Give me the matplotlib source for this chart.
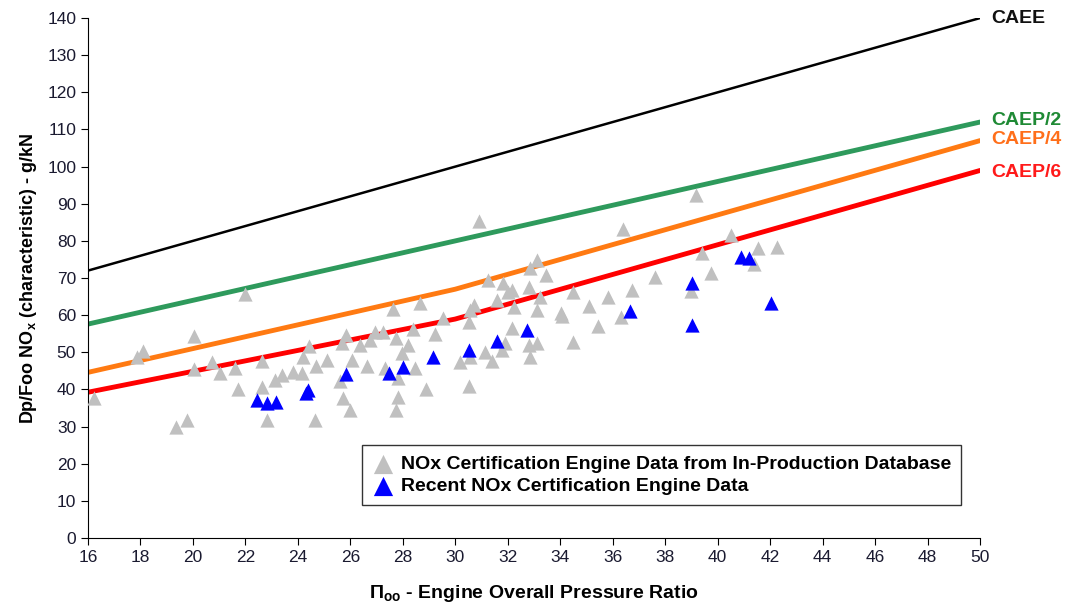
import matplotlib
matplotlib.use('Agg')
import matplotlib.pyplot as plt

plt.rcParams['font.family'] = ['Liberation Sans', 'DejaVu Sans']
plt.rcParams['mathtext.default'] = 'regular'

# regulatory limit lines (pressure ratio breakpoints, g/kN)
caee_x = [16, 50]
caee_y = [72, 140]
caep2_x = [16, 50]
caep2_y = [57.6, 112]
caep4_x = [16, 30, 50]
caep4_y = [44.6, 67, 107]
caep6_x = [16, 30, 50]
caep6_y = [39.25, 58.96, 98.96]

# in-production certification data
gray_pr = [16.23, 17.87, 18.10, 19.35, 19.77, 20.04, 20.04, 20.73, 21.03, 21.60,
           21.72, 21.98, 22.63, 22.63, 22.82, 23.13, 23.39, 23.81, 24.16, 24.20,
           24.42, 24.69, 24.65, 25.11, 25.61, 25.68, 25.83, 25.72, 25.99, 26.06,
           26.37, 26.63, 26.75, 26.94, 27.24, 27.32, 27.63, 27.74, 27.82, 27.82,
           27.74, 27.97, 28.20, 28.39, 28.46, 28.65, 28.88, 29.23, 29.53, 30.18,
           30.52, 30.52, 30.56, 30.56, 30.71, 30.90, 31.13, 31.25, 31.40, 31.59,
           31.78, 31.82, 31.89, 32.01, 32.16, 32.16, 32.24, 32.81, 32.85, 33.11,
           32.81, 33.11, 32.85, 33.23, 33.11, 33.46, 34.03, 34.07, 34.49, 34.49,
           35.10, 35.44, 35.82, 36.32, 36.39, 36.74, 37.61, 38.98, 39.18, 39.40,
           39.75, 40.51, 41.39, 41.54, 42.26]
gray_nox = [37.7, 48.7, 50.3, 29.9, 31.8, 54.4, 45.5, 47.4, 44.4, 45.8,
            40.1, 65.7, 47.7, 40.7, 31.8, 42.5, 43.9, 44.7, 44.4, 48.7,
            51.7, 46.3, 31.8, 47.9, 42.3, 52.5, 54.7, 37.7, 34.5, 47.9,
            52.0, 46.3, 53.3, 55.5, 55.5, 45.8, 61.7, 53.8, 43.1, 38.0,
            34.5, 49.8, 52.0, 56.3, 45.8, 63.3, 40.1, 54.9, 59.2, 47.4,
            58.2, 40.9, 61.4, 48.7, 62.7, 85.4, 50.1, 69.5, 47.7, 64.1,
            50.6, 68.7, 52.5, 66.2, 66.8, 56.5, 62.2, 67.6, 72.7, 74.9,
            52.0, 52.5, 48.7, 64.9, 61.4, 70.8, 60.6, 59.8, 66.2, 52.8,
            62.5, 57.1, 64.9, 59.5, 83.2, 66.8, 70.3, 66.5, 92.4, 76.7,
            71.4, 81.6, 73.8, 78.1, 78.4]

# recent certification data
blue_pr = [22.44, 22.82, 23.17, 24.31, 24.39, 25.83, 27.47, 28.01, 29.15, 30.52,
           31.59, 32.73, 36.66, 39.02, 39.02, 40.89, 41.19, 42.03]
blue_nox = [37.2, 36.3, 36.6, 39.0, 39.8, 44.2, 44.4, 46.0, 48.7, 50.6,
            53.0, 56.0, 61.1, 68.7, 57.3, 75.7, 75.4, 63.3]

fig = plt.figure(figsize=(10.65, 6.06), dpi=100)
ax = fig.add_axes([0.0826, 0.1122, 0.8376, 0.858])

ax.plot(caee_x, caee_y, color='black', lw=1.8, solid_capstyle='round')
ax.plot(caep2_x, caep2_y, color='#2e9a5c', lw=3.5, solid_capstyle='round')
ax.plot(caep4_x, caep4_y, color='#ff7a12', lw=3.5, solid_capstyle='round')
ax.plot(caep6_x, caep6_y, color='#ff0000', lw=3.5, solid_capstyle='round')

ax.scatter(gray_pr, gray_nox, marker='^', s=105, color='#c0c0c0', linewidths=0,
           label='NOx Certification Engine Data from In-Production Database', zorder=3)
ax.scatter(blue_pr, blue_nox, marker='^', s=105, color='#0000ff', linewidths=0,
           label='Recent NOx Certification Engine Data', zorder=4)

# line labels
for txt, y, c in [('CAEE', 140, '#111111'), ('CAEP/2', 112.5, '#1f8a35'),
                  ('CAEP/4', 107.2, '#ff6f1a'), ('CAEP/6', 98.5, '#ff1a1a')]:
    ax.text(50.42, y, txt, color=c, fontsize=14, fontweight='bold',
            va='center', ha='left', clip_on=False)

ax.set_xlim(16, 50)
ax.set_ylim(0, 140)
ax.set_xticks(range(16, 51, 2))
ax.set_yticks(range(0, 141, 10))
for s in ['top', 'right']:
    ax.spines[s].set_visible(False)
ax.tick_params(labelsize=12.5, length=5, colors='black')
for lab in ax.get_xticklabels() + ax.get_yticklabels():
    lab.set_color('#1a1a30')

ax.set_ylabel('Dp/Foo NO$_x$ (characteristic) - g/kN', fontsize=13,
              fontweight='bold', labelpad=6)
ax.set_xlabel('Π$_{oo}$ - Engine Overall Pressure Ratio', fontsize=14,
              fontweight='bold', labelpad=13)

leg = ax.legend(loc='lower left', bbox_to_anchor=(0.307, 0.0635), fancybox=False,
                frameon=True, edgecolor='black', prop={'weight': 'bold', 'size': 14},
                handletextpad=0.3, borderpad=0.5, labelspacing=0.25,
                handlelength=1.2, scatterpoints=1, markerscale=1.35,
                borderaxespad=0)
leg.get_frame().set_linewidth(1.0)

fig.savefig('out.png', dpi=100)
